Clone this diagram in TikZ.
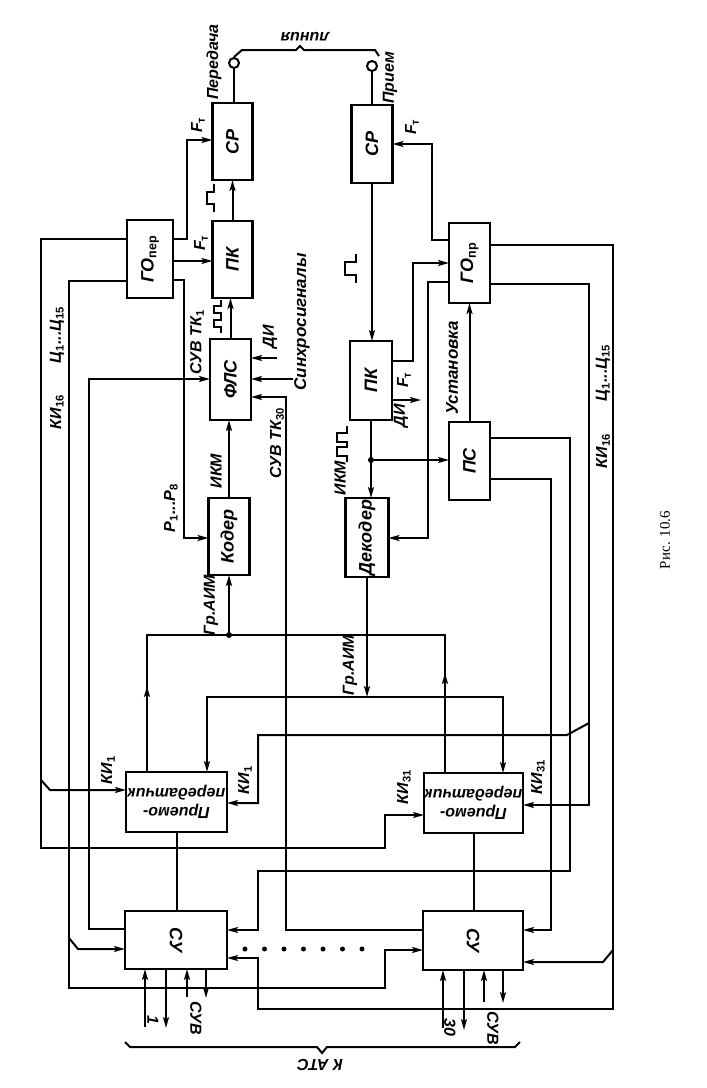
\documentclass[tikz,border=0pt]{standalone}
\usepackage{fontspec}
\setmainfont{Liberation Sans}
\newfontfamily\serifcap{Liberation Serif}
\usetikzlibrary{arrows.meta}
\newcommand{\sbt}[1]{\textsubscript{\textup{#1}}}
\begin{document}
\begin{tikzpicture}[x=1pt,y=-1pt,
 ln/.style={line width=2pt},
 arr/.style={ln,-{Stealth[length=11pt,width=6pt,inset=2.5pt]}},
 box/.style={draw,line width=2.5pt,inner sep=0,outer sep=0},
 bt/.style={font=\fontsize{18}{20}\selectfont\bfseries\itshape,inner sep=0,rotate=90},
 lb/.style={font=\fontsize{16}{18}\selectfont\bfseries\itshape,inner sep=0,rotate=90},
 pp/.style={font=\fontsize{16}{19}\selectfont\bfseries\itshape,inner sep=0,rotate=180,align=center},
 dotj/.style={circle,fill,inner sep=0,minimum size=6pt},
 term/.style={draw,circle,line width=2pt,minimum size=10pt,inner sep=0}]
\fill[white] (0,0) rectangle (707,1088);
\useasboundingbox (0,0) rectangle (707,1088);

% ---------- boxes ----------
\node[box,minimum width=40pt,minimum height=77pt] (srT) at (232.5,141.5) {};
\node[box,minimum width=40pt,minimum height=77pt] (pkT) at (232.5,259.5) {};
\node[box,minimum width=46pt,minimum height=78pt] (goT) at (150,259) {};
\node[box,minimum width=41pt,minimum height=81pt] (fps) at (230.5,379.5) {};
\node[box,minimum width=41pt,minimum height=77pt] (coder) at (229,536.5) {};
\node[box,minimum width=41pt,minimum height=78pt] (srR) at (372,144) {};
\node[box,minimum width=41pt,minimum height=80pt] (goR) at (469.5,263) {};
\node[box,minimum width=42pt,minimum height=79pt] (pkR) at (371,380.5) {};
\node[box,minimum width=41pt,minimum height=78pt] (ps) at (469.5,461) {};
\node[box,minimum width=43pt,minimum height=79pt] (dec) at (367,537.5) {};
\node[box,minimum width=101pt,minimum height=60pt] (pp1) at (176.5,802) {};
\node[box,minimum width=99pt,minimum height=60pt] (pp2) at (473.5,803) {};
\node[box,minimum width=102pt,minimum height=58pt] (su1) at (176,940) {};
\node[box,minimum width=100pt,minimum height=59pt] (su2) at (473,940.5) {};
\node[term] (cT) at (234,63) {};
\node[term] (cR) at (372,66) {};

\node[bt] at (srT) {СР};
\node[bt] at (pkT) {ПК};
\node[bt] at (goT) {ГО\sbt{пер}};
\node[bt] at (fps) {ФЛС};
\node[bt] at (coder) {Кодер};
\node[bt] at (srR) {СР};
\node[bt] at (goR) {ГО\sbt{пр}};
\node[bt] at (pkR) {ПК};
\node[bt] at (ps) {ПС};
\node[bt] at (dec) {Декодер};
\node[pp] at (pp1) {Приемо-\\передатчик};
\node[pp] at (pp2) {Приемо-\\передатчик};
\node[bt,rotate=-180] at (su1) {СУ};
\node[bt,rotate=-180] at (su2) {СУ};

% ---------- line (bracket) ----------
\draw[ln] (cT.south) -- (cT.south |- srT.north);
\draw[ln] (cR.south) -- (cR.south |- srR.north);
\draw[ln] (cT.north) -- (242,50) -- (296,50) -- (300,46) -- (304,50) -- (375,50) -- (379,56);

% ---------- transmit side ----------
\draw[arr] (pkT.north) -- (srT.south);
\draw[arr] (fps.north) -- (fps.north |- pkT.south);
\draw[arr] (coder.north) -- (coder.north |- fps.south);
\draw[arr] (goT.east |- 0,239) -| (187,140) -- (srT.west |- 0,140);
\draw[arr] (goT.east |- 0,261) -- (pkT.west |- 0,261);
\draw[arr] (goT.east |- 0,280) -| (184,538) -- (coder.west |- 0,538);
\draw[arr] (goT.west |- 0,239) -| (41,848) -| (385,815) -- (pp2.west |- 0,815);
\draw[arr] (41,780) -- (50,790) -- (pp1.west |- 0,790);
\draw[arr] (goT.west |- 0,281) -| (69,988) -| (385,950) -- (su2.west |- 0,950);
\draw[arr] (69,938) -- (78,949) -- (su1.west |- 0,949);
\draw[arr] (su1.west |- 0,929) -| (89,379) -- (fps.west |- 0,379);
\draw[arr] (su2.west |- 0,930) -| (286,397) -- (fps.east |- 0,397);
\coordinate (di1) at (277,358);
\draw[arr] (di1) -- (fps.east |- di1);
\coordinate (sync) at (293,379);
\draw[arr] (sync) -- (fps.east |- sync);

% group AIM (transmit)
\coordinate (a1) at (147,635);
\coordinate (a2) at (445,635);
\draw[ln] (pp1.north -| a1) -- (a1) -- (a2) -- (pp2.north -| a2);
\draw[arr] (pp1.north -| a1) -- (147,686);
\draw[arr] (pp2.north -| a2) -- (445,673);
\node[dotj] (jA) at (229,635) {};
\draw[arr] (jA) -- (coder.south);

% group AIM (receive)
\coordinate (jD) at (dec.south |- 0,697);
\draw[arr] (dec.south) -- (jD);
\draw[arr] (jD) -| (pp1.north -| 207,0);
\draw[arr] (jD) -| (pp2.north -| 503,0);

% ---------- receive side ----------
\draw[arr] (srR.south) -- (srR.south |- pkR.north);
\draw[arr] (pkR.south) -- (pkR.south |- dec.north);
\node[dotj] (jP) at (pkR.south |- 0,460) {};
\draw[arr] (jP) -- (ps.west |- jP);
\coordinate (diout) at (421,400);
\draw[arr] (pkR.east |- diout) -- (diout);
\draw[arr] (goR.west |- 0,240) -| (432,144) -- (srR.east |- 0,144);
\draw[arr] (pkR.east |- 0,361) -| (413,263) -- (goR.west |- 0,263);
\draw[arr] (goR.west |- 0,282) -| (428,538) -- (dec.east |- 0,538);
\draw[arr] (ps.north) -- (goR.south);

\draw[arr] (589,723) -- (567,735) -| (258,803) -- (pp1.east |- 0,803);
\draw[arr] (goR.east |- 0,284) -| (589,805) -- (pp2.east |- 0,805);
\draw[arr] (goR.east |- 0,245) -| (613,1009) -| (258,958) -- (su1.east |- 0,958);
\draw[arr] (613,950) -- (603,962) -- (su2.east |- 0,962);
\draw[arr] (ps.east |- 0,438) -| (570,871) -| (258,930) -- (su1.east |- 0,930);
\draw[arr] (ps.east |- 0,479) -| (551,930) -- (su2.east |- 0,930);

% ---------- PP - SU ----------
\draw[ln] (pp1.south) -- (pp1.south |- su1.north);
\draw[ln] (pp2.south) -- (pp2.south |- su2.north);

% SU bottom arrows
\coordinate (b1) at (145,1027); \coordinate (b2) at (166,1028);
\coordinate (b3) at (187,997);  \coordinate (b4) at (206,998);
\coordinate (b5) at (443,1028); \coordinate (b6) at (464,1030);
\coordinate (b7) at (484,1002); \coordinate (b8) at (503,1003);
\draw[arr] (b1) -- (su1.south -| b1);
\draw[arr] (su1.south -| b2) -- (b2);
\draw[arr] (b3) -- (su1.south -| b3);
\draw[arr] (su1.south -| b4) -- (b4);
\draw[arr] (b5) -- (su2.south -| b5);
\draw[arr] (su2.south -| b6) -- (b6);
\draw[arr] (b7) -- (su2.south -| b7);
\draw[arr] (su2.south -| b8) -- (b8);

% dots between SU
\foreach \i in {0,...,6} \fill (245+19.5*\i,949) circle (2.5);

% brace to ATS
\draw[ln] (125,1042) -- (130,1047) -- (317,1047) -- (322,1053) -- (327,1047) -- (515,1047) -- (520,1042);

% ---------- waveforms ----------
\draw[ln] (214,212) -- (214,204) -- (207,204) -- (207,192) -- (214,192) -- (214,184);
\draw[ln] (221,333) -- (221,327) -- (214,327) -- (214,320) -- (221,320) -- (221,313) -- (214,313) -- (214,306) -- (221,306) -- (221,300);
\draw[ln] (356,283) -- (356,275) -- (345,275) -- (345,262) -- (356,262) -- (356,254);
\draw[ln] (347,462) -- (347,456) -- (337,456) -- (337,447) -- (347,447) -- (347,442) -- (337,442) -- (337,433) -- (347,433) -- (347,426);

% ---------- labels ----------
\node[lb] at (214,62) {Передача};
\node[lb] at (390,78) {Прием};
\node[lb,rotate=90] at (305,37) {линия};
\node[lb] at (198,125) {F\sbt{т}};
\node[lb] at (201,243) {F\sbt{т}};
\node[lb] at (412,127) {F\sbt{т}};
\node[lb] at (404,380) {F\sbt{т}};
\node[lb] at (401,416) {ДИ};
\node[lb] at (270,337) {ДИ};
\node[lb,font=\fontsize{17}{20}\selectfont\bfseries\itshape] at (302,322) {Синхросигналы};
\node[lb] at (197,342) {СУВ ТК\sbt{1}};
\node[lb] at (277,443) {СУВ ТК\sbt{30}};
\node[lb] at (216,471) {ИКМ};
\node[lb] at (171,508) {Р\sbt{1}...Р\sbt{8}};
\node[lb] at (211,605) {Гр.АИМ};
\node[lb] at (57,335) {Ц\sbt{1}...Ц\sbt{15}};
\node[lb] at (57,412) {КИ\sbt{16}};
\node[lb] at (603,373) {Ц\sbt{1}...Ц\sbt{15}};
\node[lb] at (603,451) {КИ\sbt{16}};
\node[lb] at (108,770) {КИ\sbt{1}};
\node[lb] at (245,780) {КИ\sbt{1}};
\node[lb] at (404,787) {КИ\sbt{31}};
\node[lb] at (538,777) {КИ\sbt{31}};
\node[lb,font=\fontsize{17}{20}\selectfont\bfseries\itshape] at (452,368) {Установка};
\node[lb] at (340,478) {ИКМ};
\node[lb] at (350,665) {Гр.АИМ};
\node[lb,rotate=180] at (153,1020) {1};
\node[lb,rotate=180] at (196,1018) {СУВ};
\node[lb,rotate=180] at (450,1027) {30};
\node[lb,rotate=180] at (493,1028) {СУВ};
\node[lb,rotate=90] at (320,1065) {К АТС};
\node[rotate=90,inner sep=0,font=\fontsize{15}{17}\selectfont\serifcap] at (665,540) {Рис. 10.6};
\end{tikzpicture}
\end{document}
